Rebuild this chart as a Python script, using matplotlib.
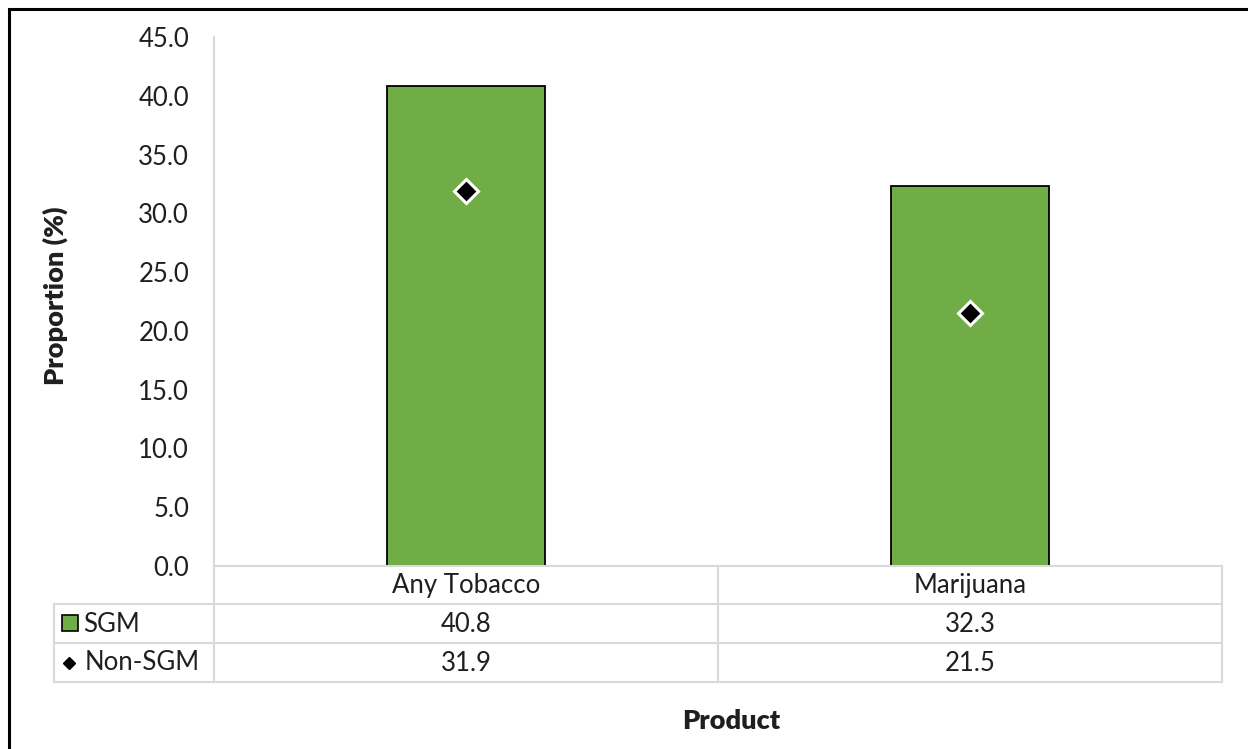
import matplotlib
matplotlib.use("Agg")
import matplotlib.pyplot as plt
from matplotlib.lines import Line2D
from matplotlib.patches import Rectangle
import matplotlib.transforms as mtransforms

plt.rcParams['font.family'] = ['Lato', 'DejaVu Sans']

products = ["Any Tobacco", "Marijuana"]
sgm = [40.8, 32.3]
non_sgm = [31.9, 21.5]
series_names = ["SGM", "Non-SGM"]

W, H = 1248, 749
fig = plt.figure(figsize=(W / 100, H / 100), dpi=100)

# pixel helpers (origin top-left)
def fx(px):
    return px / W

def fy(py):
    return 1 - py / H

ax_l, ax_r, ax_t, ax_b = 214, 1222, 37, 566
ax = fig.add_axes([fx(ax_l), fy(ax_b), fx(ax_r - ax_l), fy(ax_t) - fy(ax_b)])

green = "#70AD47"
grid_col = "#D9D9D9"
txt_col = "#1f1f1f"
fs = 18.5
x = list(range(len(products)))

ax.bar(x, sgm, width=0.314, color=green, edgecolor="black", linewidth=1.3, zorder=2)
ax.plot(x, non_sgm, linestyle="none", marker="D", markersize=12.5,
        markerfacecolor="black", markeredgecolor="white", markeredgewidth=2.2, zorder=3)

ax.set_xlim(-0.5, len(products) - 0.5)
ax.set_ylim(0, 45)
ax.set_yticks(range(0, 46, 5))
ax.set_yticklabels([f"{v:.1f}" for v in range(0, 46, 5)], fontsize=fs, color=txt_col)
ax.tick_params(axis="y", length=0, pad=18)
ax.set_xticks([])
for s in ["top", "right", "bottom"]:
    ax.spines[s].set_visible(False)
ax.spines["left"].set_color(grid_col)
ax.spines["left"].set_linewidth(1.5)

ax.set_ylabel("Proportion (%)", fontsize=19.5, fontweight="heavy", color=txt_col)
ax.yaxis.set_label_coords(fx(68 - ax_l) / fx(ax_r - ax_l), 0.51)

# data table below the axes
row_y = [566, 604, 643, 682]
tbl_left = 54
col_x = [ax_l, (ax_l + ax_r) / 2, ax_r]
lw = 1.5

def hline(x0, x1, py):
    fig.add_artist(Line2D([fx(x0), fx(x1)], [fy(py), fy(py)], color=grid_col, lw=lw))

def vline(px, y0, y1):
    fig.add_artist(Line2D([fx(px), fx(px)], [fy(y0), fy(y1)], color=grid_col, lw=lw))

hline(ax_l, ax_r, row_y[0])
for py in row_y[1:]:
    hline(tbl_left, ax_r, py)
vline(ax_l, ax_b, row_y[-1])
vline(col_x[1], row_y[0], row_y[-1])
vline(ax_r, row_y[0], row_y[-1])
vline(tbl_left, row_y[1], row_y[-1])

trans = mtransforms.blended_transform_factory(ax.transData, fig.transFigure)
for i, p in enumerate(products):
    fig.text(i, fy((row_y[0] + row_y[1]) / 2 + 1), p, transform=trans,
             ha="center", va="center", fontsize=fs, color=txt_col)
    fig.text(i, fy((row_y[1] + row_y[2]) / 2 + 1), f"{sgm[i]:.1f}", transform=trans,
             ha="center", va="center", fontsize=fs, color=txt_col)
    fig.text(i, fy((row_y[2] + row_y[3]) / 2 + 1), f"{non_sgm[i]:.1f}", transform=trans,
             ha="center", va="center", fontsize=fs, color=txt_col)

# legend keys in the first column
fig.add_artist(Rectangle((fx(62), fy(631)), fx(16), fy(615) - fy(631),
                         facecolor=green, edgecolor="black", lw=1.2))
fig.add_artist(Line2D([fx(69)], [fy(663)], marker="D", markersize=6.5,
                      markerfacecolor="black", markeredgecolor="black", linestyle="none"))
fig.text(fx(83), fy(624), series_names[0], ha="left", va="center", fontsize=fs, color=txt_col)
fig.text(fx(85), fy(663), series_names[1], ha="left", va="center", fontsize=fs, color=txt_col)

fig.text(fx(731), fy(721), "Product", ha="center", va="center",
         fontsize=19.5, fontweight="heavy", color=txt_col)

# outer frame
fig.add_artist(Rectangle((fx(9), fy(H + 20)), fx(W + 20), fy(9) - fy(H + 20),
                         fill=False, edgecolor="black", lw=2.2))

fig.savefig("out.png", dpi=100)
